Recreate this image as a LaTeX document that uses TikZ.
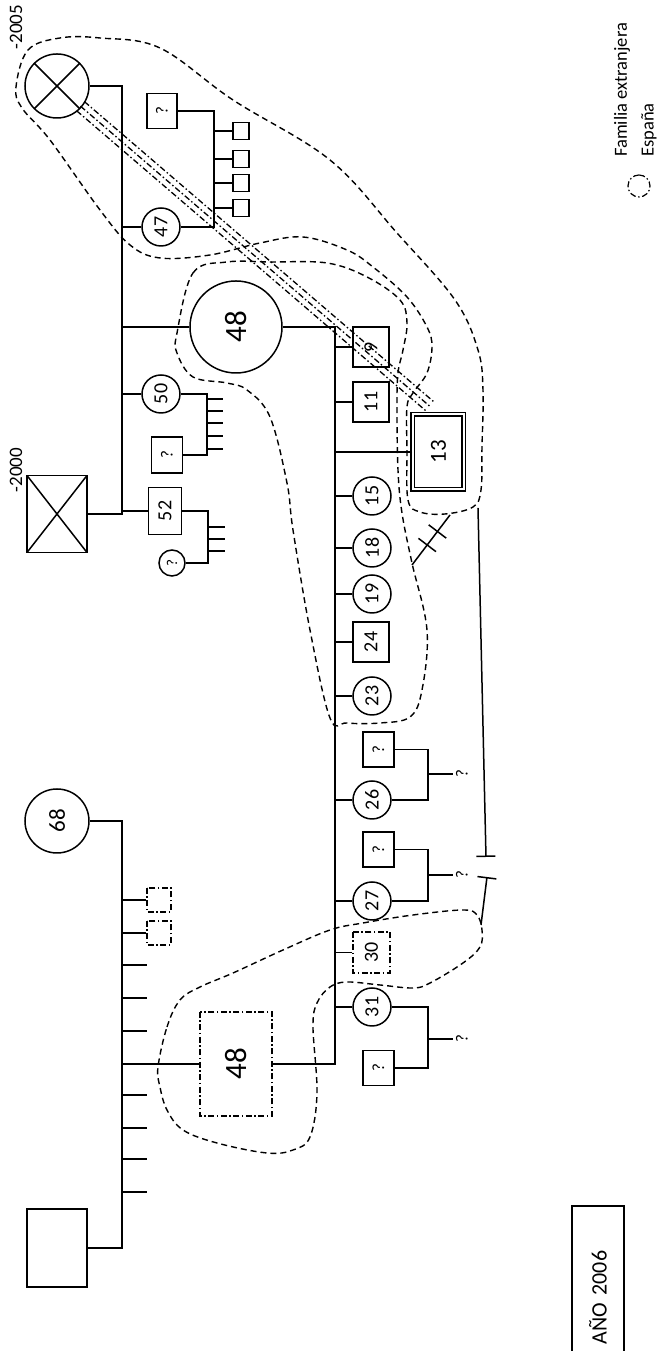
\documentclass[tikz,border=0pt]{standalone}
\usepackage{fontspec}
\setmainfont{Carlito}
\usetikzlibrary{calc,arrows.meta}

\tikzset{
  linea/.style={line width=1.5pt},
  mujer/.style={circle, draw, line width=1.5pt, inner sep=0pt, font=\fontsize{20}{22}\selectfont},
  hombre/.style={rectangle, draw, line width=1.5pt, inner sep=0pt, font=\fontsize{20}{22}\selectfont},
  extranjero/.style={dash pattern=on 6pt off 2.5pt on 1.5pt off 2.5pt},
  fallecido/.style={path picture={\draw[line width=1.5pt]
      (path picture bounding box.north west) -- (path picture bounding box.south east)
      (path picture bounding box.south west) -- (path picture bounding box.north east);}},
  grupo/.style={line width=1.4pt, dash pattern=on 6pt off 4pt},
  nota/.style={font=\fontsize{17}{19}\selectfont},
}

\begin{document}
\begin{tikzpicture}[x=1pt, y=1pt, rotate=90, transform shape]
    \useasboundingbox (0,0) rectangle (1351,659);
    % Generation lines
    \coordinate (g1) at (0,537);
    \coordinate (g2) at (0,324);
    \coordinate (g3) at (0,231);
    \coordinate (g47) at (0,445);
    \coordinate (g50) at (0,452);
    \coordinate (g52) at (0,451);

    % Add the paternal grandparents
    \node[mujer, fallecido, minimum size=64pt] (abuela) at (1265,602) {};
    \node[font=\fontsize{19}{21}\selectfont] (f2005) at (1324,643) {-2005};
    \node[hombre, fallecido, minimum width=77pt, minimum height=60pt] (abuelo) at (837,602) {};
    \node[font=\fontsize{19}{21}\selectfont] (f2000) at (881,643) {-2000};
    \draw[linea] (abuela.south) -- (abuela.south |- g1) -| (abuelo.south);

    % Add their children
    \node[mujer, minimum size=38pt] (h47) at (1124,498) {47};
    \node[mujer, minimum size=92pt, font=\fontsize{31}{32}\selectfont] (h48) at (1024,423) {48};
    \node[mujer, minimum size=38pt] (h50) at (957,498) {50};
    \node[hombre, minimum width=47pt, minimum height=33pt] (h52) at (840,494) {52};
    \foreach \n in {h47,h48,h50,h52}
        \draw[linea] (\n.north) -- (\n.north |- g1);

    % Add the family of 47
    \node[hombre, nota, minimum width=35pt, minimum height=30pt] (p47) at (1240,497) {?};
    \draw[linea] (h47.south) -- (h47.south |- g47) -| (p47.south);
    \foreach \x [count=\i] in {1220,1192,1168,1143} {
        \node[hombre, minimum width=17pt, minimum height=16pt] (k47\i) at (\x,418) {};
        \draw[linea] (k47\i.north) -- (k47\i.north |- g47);
    }

    % Add the family of 50
    \node[hombre, nota, minimum width=36pt, minimum height=31pt] (p50) at (896,492) {?};
    \draw[linea] (h50.south) -- (h50.south |- g50) -| (p50.south);
    \foreach \x in {952,940,928,915,902}
        \draw[linea] (\x,452) -- (\x,436);

    % Add the family of 52
    \node[mujer, font=\fontsize{15}{17}\selectfont, minimum size=26pt] (p52) at (788,487) {?};
    \draw[linea] (h52.south) -- (h52.south |- g52) -| (p52.south);
    \foreach \x in {824,812,800}
        \draw[linea] (\x,451) -- (\x,434);

    % Add the maternal grandparents
    \node[mujer, minimum size=64pt, font=\fontsize{23}{25}\selectfont] (abuela2) at (530,602) {68};
    \node[hombre, minimum width=78pt, minimum height=60pt] (abuelo2) at (103,602) {};
    \draw[linea] (abuela2.south) -- (abuela2.south |- g1) -| (abuelo2.south);
    \node[hombre, extranjero, line width=1.2pt, minimum size=24pt] (t1) at (451,500) {};
    \node[hombre, extranjero, line width=1.2pt, minimum size=24pt] (t2) at (418,500) {};
    \node[hombre, extranjero, line width=1.2pt, minimum width=104pt, minimum height=72pt, font=\fontsize{31}{32}\selectfont] (p48) at (287,423) {48};
    \foreach \n in {t1,t2,p48}
        \draw[linea] (\n.north) -- (\n.north |- g1);
    \foreach \x in {386,353,320,256,223,192,159}
        \draw[linea] (\x,537) -- (\x,512);

    % Add the parents and their children
    \draw[linea] (h48.south) -- (h48.south |- g2) -| (p48.south);
    \node[hombre, minimum width=40pt, minimum height=36pt] (n9) at (1004,288) {9};
    \node[hombre, minimum width=40pt, minimum height=36pt] (n11) at (949,288) {11};
    \node[hombre, double, double distance=2pt, minimum width=75pt, minimum height=51pt, font=\fontsize{23}{25}\selectfont] (n13) at (899,220.5) {13};
    \node[mujer, minimum size=38pt] (n15) at (855,287) {15};
    \node[mujer, minimum size=38pt] (n18) at (803,287) {18};
    \node[mujer, minimum size=38pt] (n19) at (757,287) {19};
    \node[hombre, minimum width=40pt, minimum height=36pt] (n24) at (709,288) {24};
    \node[mujer, minimum size=38pt] (n23) at (655,287) {23};
    \node[mujer, minimum size=38pt] (n26) at (551,287) {26};
    \node[mujer, minimum size=38pt] (n27) at (450,287) {27};
    \node[hombre, extranjero, line width=1.2pt, minimum width=41pt, minimum height=37pt] (n30) at (398.5,287.5) {30};
    \node[mujer, minimum size=38pt] (n31) at (344,287) {31};
    \foreach \n in {n9,n11,n13,n15,n18,n19,n24,n23,n26,n27,n30,n31}
        \draw[linea] (\n.north) -- (\n.north |- g2);

    % Add the partners of 26, 27 and 31
    \node[hombre, nota, minimum width=35pt, minimum height=31pt] (p26) at (601.5,280.5) {?};
    \node[hombre, nota, minimum width=35pt, minimum height=31pt] (p27) at (501.5,280.5) {?};
    \node[hombre, nota, minimum width=35pt, minimum height=31pt] (p31) at (283,280.5) {?};
    \node[nota] (q26) at (577,197) {?};
    \node[nota] (q27) at (476,197) {?};
    \node[nota] (q31) at (312,197) {?};
    \foreach \n in {26,27,31} {
        \draw[linea] (n\n.south) -- (n\n.south |- g3) -| (p\n.south);
        \draw[linea] (q\n.north) -- (q\n.north |- g3);
    }

    % Add the groups
    \draw[grupo] plot[smooth cycle, tension=0.6] coordinates {(1264,643) (1301,631) (1313,599) (1313,559) (1303,499) (1251,426) (1191,329) (1118,262) (1051,204) (1001,181) (961,176) (904,177) (861,178) (844,186) (837,214) (839,239) (851,251) (901,252) (944,252) (958,246) (978,232) (1004,227) (1024,232) (1054,252) (1084,286) (1101,312) (1114,356) (1108,399) (1096,449) (1093,499) (1106,529) (1141,559) (1211,609) (1243,637)};
    \draw[grupo] plot[smooth cycle, tension=0.6] coordinates {(1018,482) (1078,466) (1089,432) (1089,389) (1088,332) (1074,292) (1051,259) (1028,252) (1001,256) (978,261) (944,262) (881,261) (838,257) (788,247) (721,232) (661,237) (634,249) (628,279) (628,312) (633,329) (721,349) (821,366) (868,372) (934,389) (961,412) (968,432) (974,466) (998,482)};
    \draw[grupo] plot[smooth cycle, tension=0.6] coordinates {(284,501) (324,492) (351,479) (364,459) (378,426) (401,376) (421,329) (428,296) (436,246) (441,196) (436,182) (421,177) (404,179) (388,196) (368,229) (363,246) (366,279) (369,312) (364,329) (348,342) (324,346) (258,342) (214,349) (201,366) (198,392) (208,442) (221,476) (241,492) (264,499)};

    % Add the relations
    \foreach \o in {-6,0,6}
        \draw[line width=1.3pt, extranjero, shorten <=31pt, shorten >=10pt]
            ($(abuela.center)!\o pt!90:(n13.east)$) -- ($(n13.east)!\o pt!-90:(abuela.center)$);
    \coordinate (sa) at (836,209);
    \coordinate (sb) at (786,247);
    \draw[linea] (sa) -- (sb);
    \path (sa) -- (sb) coordinate[pos=.33] (c1) coordinate[pos=.6] (c2);
    \foreach \c in {c1,c2}
        \draw[linea] ($(\c)!11pt!90:(sb)$) -- ($(\c)!11pt!-90:(sb)$);
    \coordinate (ra) at (843,181);
    \coordinate (rb) at (494,173);
    \coordinate (rc) at (474,172);
    \coordinate (rd) at (426,178);
    \draw[linea, -{Bar[width=19pt]}] (ra) -- (rb);
    \draw[linea, {Bar[width=19pt]}-] (rc) -- (rd);

    % Add the legend
    \node[circle, draw, extranjero, line width=1.2pt, minimum size=22pt] (ley) at (1165,20) {};
    \node[anchor=west, inner sep=0pt, font=\fontsize{18.5}{20}\selectfont] (fam) at (1194,37) {Familia extranjera};
    \node[anchor=west, inner sep=0pt, font=\fontsize{18.5}{20}\selectfont] (esp) at (1194,10) {España};
    \node[draw, linea, anchor=west, inner xsep=16pt, text width=122pt, minimum height=52pt, align=left, font=\fontsize{22}{24}\selectfont] (anio) at (-10,61) {AÑO 2006};
\end{tikzpicture}
\end{document}
